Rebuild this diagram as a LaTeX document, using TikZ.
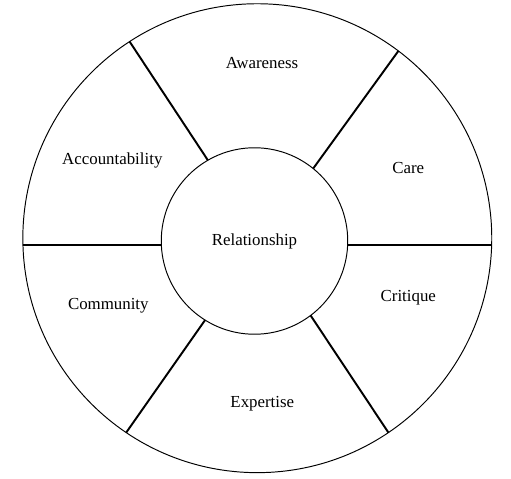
\documentclass[tikz,border=0pt]{standalone}
\usepackage{fontspec}
\setmainfont{Liberation Serif}

\begin{document}
\begin{tikzpicture}[x=0.02cm,y=-0.02cm,font=\fontsize{9.6}{11}\selectfont,
  ring/.style={draw,circle,line width=0.55pt,inner sep=0pt,outer sep=0pt},
  spoke/.style={line width=1.1pt},
  sector/.style={inner sep=0pt}]
\useasboundingbox (0,0) rectangle (511,479);
\node[ring,minimum size=9.38cm] (outer) at (257.3,238.2) {};
\node[ring,fill=white,minimum size=3.73cm] (hub) at (254.5,241) {Relationship};
% spokes between the two rings
\draw[spoke] (hub.120.8) -- (outer.123.4);
\draw[spoke] (hub.51.4) -- (outer.53.6);
\draw[spoke] (hub.west |- 0,245) -- (outer.west |- 0,245);
\draw[spoke] (hub.east |- 0,245) -- (outer.east |- 0,245);
\draw[spoke] (hub.238.5) -- (outer.236.3);
\draw[spoke] (hub.307) -- (outer.304);
% sector labels
\node[sector] (aware) at (262,62.7) {Awareness};
\node[sector] (acc) at (112.3,160) {Accountability};
\node[sector] (care) at (408.3,167.7) {Care};
\node[sector] (crit) at (408.3,297.7) {Critique};
\node[sector] (comm) at (108.3,305.7) {Community};
\node[sector] (expert) at (262.3,404) {Expertise};
\end{tikzpicture}
\end{document}
